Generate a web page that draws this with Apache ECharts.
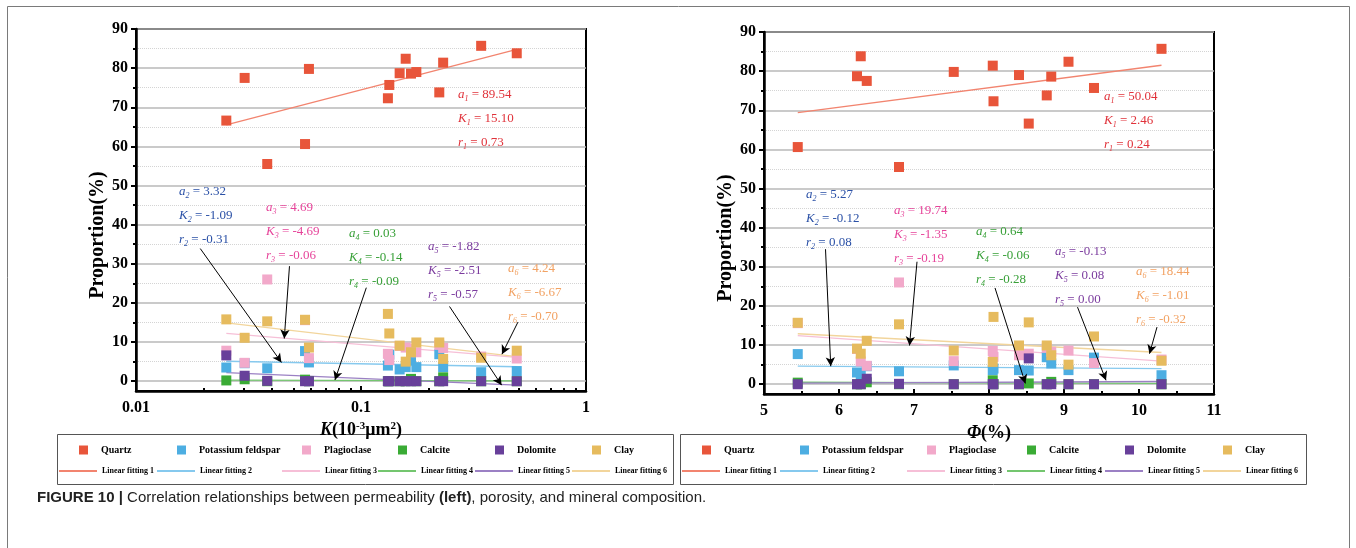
<!DOCTYPE html>
<html>
<head>
<meta charset="utf-8">
<title>FIGURE 10</title>
<script src="https://cdn.jsdelivr.net/npm/echarts@6/dist/echarts.min.js"></script>
<style>
html, body { margin: 0; padding: 0; background: #fff; }
#chart { width: 1356px; height: 548px; }
</style>
</head>
<body>
<div id="chart"></div>
<script>
// 样品数据（15 个样品）：渗透率、孔隙度与矿物组成（%）
var permeability = [0.0252, 0.0304, 0.0383, 0.0564, 0.0587, 0.1317, 0.1336, 0.1485, 0.158, 0.1668, 0.1762, 0.2228, 0.2318, 0.342, 0.4923];
var porosity = [8.53, 6.37, 6.80, 5.45, 7.53, 8.06, 9.40, 6.24, 9.06, 8.83, 8.40, 8.77, 8.05, 10.30, 6.29];
var quartz = [66.6, 77.5, 55.5, 60.6, 79.8, 72.3, 75.7, 78.7, 82.4, 78.6, 79.0, 73.8, 81.4, 85.7, 83.8];
var potassiumFeldspar = [3.5, 4.6, 3.3, 7.7, 4.8, 4.0, 6.8, 3.0, 3.6, 5.3, 3.6, 6.9, 3.6, 2.3, 2.6];
var plagioclase = [7.8, 4.7, 26.0, 15.6, 5.9, 7.0, 5.4, 9.0, 8.6, 8.3, 7.4, 9.3, 8.5, 6.3, 5.8];
var calcite = [0.2, 0.5, 0, 0.4, 0, 0, 0, 0, 0, 0.6, 0, 0, 1.0, 0, 0];
var dolomite = [6.6, 1.4, 0.1, 0, 0, 0, 0, 0, 0, 0, 0, 0, 0, 0, 0];
var clay = [15.8, 11.1, 15.3, 15.7, 8.6, 17.2, 12.2, 9.1, 5.0, 7.4, 9.9, 9.9, 5.7, 6.0, 7.8];

var mineralNames = ['Quartz', 'Potassium feldspar', 'Plagioclase', 'Calcite', 'Dolomite', 'Clay'];
var fitNames = ['Linear fitting 1', 'Linear fitting 2', 'Linear fitting 3', 'Linear fitting 4', 'Linear fitting 5', 'Linear fitting 6'];

// 坐标轴刻度
var proportionTicks = [0, 10, 20, 30, 40, 50, 60, 70, 80, 90];
var proportionMinorTicks = [5, 15, 25, 35, 45, 55, 65, 75, 85];

// 拟合线端点（按矿物顺序）
var permFitX = [0.0252, 0.4923];
var permFitStart = [65.5, 5.1, 12.2, 0.3, 2.2, 14.9];
var permFitEnd = [84.8, 3.7, 6.1, 0.1, -1.0, 6.3];
var poroFitX = [5.45, 10.3];
var poroFitStart = [69.4, 4.6, 12.4, 0.5, 0.3, 12.9];
var poroFitEnd = [81.5, 4.0, 5.9, 0.2, 0.7, 8.1];

// 拟合参数
var permA = ['89.54', '3.32', '4.69', '0.03', '-1.82', '4.24'];
var permK = ['15.10', '-1.09', '-4.69', '-0.14', '-2.51', '-6.67'];
var permR = ['0.73', '-0.31', '-0.06', '-0.09', '-0.57', '-0.70'];
var poroA = ['50.04', '5.27', '19.74', '0.64', '-0.13', '18.44'];
var poroK = ['2.46', '-0.12', '-1.35', '-0.06', '0.08', '-1.01'];
var poroR = ['0.24', '0.08', '-0.19', '-0.28', '0.00', '-0.32'];

// 箭头 [起点x, 起点y, 终点x, 终点y]，对应拟合 2-6
var permArrows = [[0.0193, 33.9, 0.0443, 4.8], [0.0481, 29.4, 0.0456, 10.9], [0.1056, 23.9, 0.0766, 0.3], [0.2474, 19.1, 0.4217, -1.0], [0.4983, 15.1, 0.4231, 6.9]];
var poroArrows = [[5.82, 34.5, 5.89, 4.6], [7.04, 31.3, 6.94, 9.9], [8.08, 24.6, 8.485, 0.2], [9.18, 19.7, 9.56, 1.0], [10.24, 14.6, 10.14, 7.8]];

// 样式
var SERIF = '"Liberation Serif", "Times New Roman", serif';
var SANS = '"Liberation Sans", Arial, sans-serif';
var markerColors = ['#e8553a', '#4daee2', '#f2a9ca', '#3aab35', '#68409a', '#e6bb5e'];
var fitColors = ['#f2846f', '#86c9ee', '#f6bfd7', '#74c66f', '#9b80c4', '#f2d59c'];
var noteColors = ['#e0323a', '#2a50a6', '#e6449a', '#38a038', '#7b3b9e', '#f2a263'];

// 版面
var grids = [
	{ left: 136, top: 29, width: 450, height: 362 },
	{ left: 764, top: 32, width: 450, height: 362 }
];
var permNoteX = [458, 179, 266, 349, 428, 508];
var permNoteY = [95, 192, 208, 234, 247, 269];
var poroNoteX = [1104, 806, 894, 976, 1055, 1136];
var poroNoteY = [97, 195, 211, 232, 252, 272];
var noteGap = 24;
var legendBoxLeft = [57, 680];
var legendBoxWidth = [616, 626];
var legendOffsets = [[22, 120, 245, 341, 438, 535], [22, 120, 247, 347, 445, 543]];
var legendRowY = [451, 472];

var Figure = function() {

	var minerals = [quartz, potassiumFeldspar, plagioclase, calcite, dolomite, clay];

	function labelStyle() {
		return { fontFamily: SERIF, fontWeight: 'bold', fontSize: 16, color: '#000' };
	}

	function mainYAxis(gridIndex) {
		return {
			type: 'value', gridIndex: gridIndex, min: -2.5, max: 90,
			name: 'Proportion(%)', nameLocation: 'middle', nameGap: 25,
			nameTextStyle: { fontFamily: SERIF, fontWeight: 'bold', fontSize: 20, color: '#000', padding: [0, 50, 0, 0] },
			axisLine: { show: true, onZero: false, lineStyle: { color: '#000', width: 2.5 } },
			axisTick: { show: true, length: 5, customValues: proportionTicks, lineStyle: { color: '#000', width: 2 } },
			axisLabel: Object.assign({ margin: 8, customValues: proportionTicks }, labelStyle()),
			splitLine: { show: true, lineStyle: { color: '#b9b9b9', width: 1.5 } }
		};
	}

	function minorYAxis(gridIndex) {
		return {
			type: 'value', gridIndex: gridIndex, min: -2.5, max: 90, position: 'left',
			axisLine: { show: false },
			axisTick: { show: true, length: 3, customValues: proportionMinorTicks, lineStyle: { color: '#000', width: 2 } },
			axisLabel: { show: false },
			splitLine: { show: true, lineStyle: { color: '#d4d4d4', width: 1, type: 'dotted' } }
		};
	}

	function buildSeries(xValues, gridIndex, fitX, fitStart, fitEnd, arrows) {
		var list = [];
		var i;
		for (i = 0; i < 6; i++) {
			list.push({
				name: fitNames[i], type: 'line', xAxisIndex: gridIndex, yAxisIndex: gridIndex * 2,
				data: [[fitX[0], fitStart[i]], [fitX[1], fitEnd[i]]],
				symbol: 'none', silent: true, z: 3,
				lineStyle: { color: fitColors[i], width: 1.3 },
				itemStyle: { color: fitColors[i] }
			});
		}
		for (i = 0; i < 6; i++) {
			var pts = [];
			for (var j = 0; j < xValues.length; j++) {
				pts.push([xValues[j], minerals[i][j]]);
			}
			list.push({
				name: mineralNames[i], type: 'scatter', xAxisIndex: gridIndex, yAxisIndex: gridIndex * 2,
				data: pts, symbol: 'rect', symbolSize: 10, z: 4,
				itemStyle: { color: markerColors[i], opacity: 1 }
			});
		}
		// 箭头
		list.push({
			name: 'arrows', type: 'line', xAxisIndex: gridIndex, yAxisIndex: gridIndex * 2,
			data: [], silent: true, z: 5,
			markLine: {
				silent: true, animation: false,
				symbol: ['none', 'arrow'], symbolSize: [7, 9],
				label: { show: false },
				lineStyle: { color: '#000', width: 1, type: 'solid' },
				itemStyle: { color: '#000' },
				data: arrows.map(function(a) {
					return [{ coord: [a[0], a[1]] }, { coord: [a[2], a[3]] }];
				})
			}
		});
		return list;
	}

	function buildNotes(noteX, noteY, aVals, kVals, rVals) {
		var items = [];
		var letters = ['a', 'K', 'r'];
		for (var i = 0; i < 6; i++) {
			var vals = [aVals[i], kVals[i], rVals[i]];
			var c = noteColors[i];
			for (var j = 0; j < 3; j++) {
				items.push({
					type: 'text', x: noteX[i], y: noteY[i] + j * noteGap, silent: true, z: 10,
					style: {
						text: '{i|' + letters[j] + '}{s|' + (i + 1) + '}{n| = ' + vals[j] + '}',
						fill: c, align: 'left', verticalAlign: 'middle',
						rich: {
							i: { fontFamily: SERIF, fontStyle: 'italic', fontSize: 13, fill: c, lineHeight: 16, verticalAlign: 'middle' },
							s: { fontFamily: SERIF, fontStyle: 'italic', fontSize: 8, fill: c, lineHeight: 16, verticalAlign: 'bottom' },
							n: { fontFamily: SERIF, fontSize: 13, fill: c, lineHeight: 16, verticalAlign: 'middle' }
						}
					}
				});
			}
		}
		return items;
	}

	function buildLegends(boxLeft, offsets) {
		var list = [];
		for (var i = 0; i < 6; i++) {
			list.push({
				data: [mineralNames[i]], left: boxLeft + offsets[i], top: legendRowY[0] - 6,
				padding: 0, icon: 'rect', itemWidth: 9, itemHeight: 9, selectedMode: false,
				textStyle: { fontFamily: SERIF, fontWeight: 'bold', fontSize: 10, color: '#000', padding: [0, 0, 0, 8] }
			});
			list.push({
				data: [fitNames[i]], left: boxLeft + offsets[i] - 21, top: legendRowY[1] - 5,
				padding: 0, itemWidth: 38, itemHeight: 10, selectedMode: false,
				itemStyle: { opacity: 0 },
				textStyle: { fontFamily: SERIF, fontWeight: 'bold', fontSize: 8, color: '#000' }
			});
		}
		return list;
	}

	return {

		/**
		 * 绘制图表
		 */
		render: function() {
			var chart = echarts.init(document.getElementById('chart'), null, { renderer: 'canvas' });
			var graphics = [
				{ type: 'rect', shape: { x: 7.5, y: 6.5, width: 1342, height: 600 }, style: { fill: 'none', stroke: '#7a7a7a', lineWidth: 1 }, silent: true },
				{ type: 'rect', shape: { x: legendBoxLeft[0] + 0.5, y: 434.5, width: legendBoxWidth[0], height: 50 }, style: { fill: 'none', stroke: '#555', lineWidth: 1 }, silent: true },
				{ type: 'rect', shape: { x: legendBoxLeft[1] + 0.5, y: 434.5, width: legendBoxWidth[1], height: 50 }, style: { fill: 'none', stroke: '#555', lineWidth: 1 }, silent: true },
				{
					type: 'text', x: 37, y: 498, silent: true,
					style: {
						text: '{b|FIGURE 10 | }{n|Correlation relationships between permeability }{b|(left)}{n|, porosity, and mineral composition.}',
						verticalAlign: 'middle',
						rich: {
							b: { fontFamily: SANS, fontWeight: 'bold', fontSize: 15, fill: '#222' },
							n: { fontFamily: SANS, fontSize: 15, fill: '#222' }
						}
					}
				}
			];
			graphics = graphics.concat(buildNotes(permNoteX, permNoteY, permA, permK, permR));
			graphics = graphics.concat(buildNotes(poroNoteX, poroNoteY, poroA, poroK, poroR));

			var option = {
				animation: false,
				backgroundColor: '#fff',
				grid: grids.map(function(g) {
					return Object.assign({ show: true, borderColor: '#000', borderWidth: 2, backgroundColor: '#fff' }, g);
				}),
				legend: buildLegends(legendBoxLeft[0], legendOffsets[0]).concat(buildLegends(legendBoxLeft[1], legendOffsets[1])),
				xAxis: [{
					type: 'log', logBase: 10, gridIndex: 0, min: 0.01, max: 1,
					name: '{i|K}{n|(10}{sup|-3}{n|μm}{sup|2}{n|)}', nameLocation: 'middle', nameGap: 23,
					nameTextStyle: {
						fontFamily: SERIF, fontWeight: 'bold', fontSize: 18, color: '#000',
						rich: {
							i: { fontFamily: SERIF, fontWeight: 'bold', fontStyle: 'italic', fontSize: 18, color: '#000' },
							n: { fontFamily: SERIF, fontWeight: 'bold', fontSize: 18, color: '#000' },
							sup: { fontFamily: SERIF, fontWeight: 'bold', fontSize: 11, color: '#000', verticalAlign: 'top' }
						}
					},
					axisLine: { onZero: false, lineStyle: { color: '#000', width: 2.5 } },
					axisTick: { inside: true, length: 5, lineStyle: { color: '#000', width: 2 } },
					minorTick: { show: true, splitNumber: 9, length: 3, lineStyle: { color: '#000', width: 2 } },
					splitLine: { show: false },
					axisLabel: Object.assign({ margin: 9, formatter: function(v) { return String(parseFloat(Number(v).toPrecision(3))); } }, labelStyle())
				}, {
					type: 'value', gridIndex: 1, min: 5, max: 11, interval: 1,
					name: '{i|Φ}{n|(%)}', nameLocation: 'middle', nameGap: 23,
					nameTextStyle: {
						fontFamily: SERIF, fontWeight: 'bold', fontSize: 18, color: '#000',
						rich: {
							i: { fontFamily: SERIF, fontWeight: 'bold', fontStyle: 'italic', fontSize: 18, color: '#000' },
							n: { fontFamily: SERIF, fontWeight: 'bold', fontSize: 18, color: '#000' }
						}
					},
					axisLine: { onZero: false, lineStyle: { color: '#000', width: 2.5 } },
					axisTick: { inside: true, length: 5, lineStyle: { color: '#000', width: 2 } },
					minorTick: { show: true, splitNumber: 2, length: 3, lineStyle: { color: '#000', width: 2 } },
					splitLine: { show: false },
					axisLabel: Object.assign({ margin: 9 }, labelStyle())
				}],
				yAxis: [mainYAxis(0), minorYAxis(0), mainYAxis(1), minorYAxis(1)],
				series: buildSeries(permeability, 0, permFitX, permFitStart, permFitEnd, permArrows)
					.concat(buildSeries(porosity, 1, poroFitX, poroFitStart, poroFitEnd, poroArrows)),
				graphic: graphics
			};
			chart.setOption(option);
		}
	};
}();

Figure.render();
</script>
</body>
</html>
